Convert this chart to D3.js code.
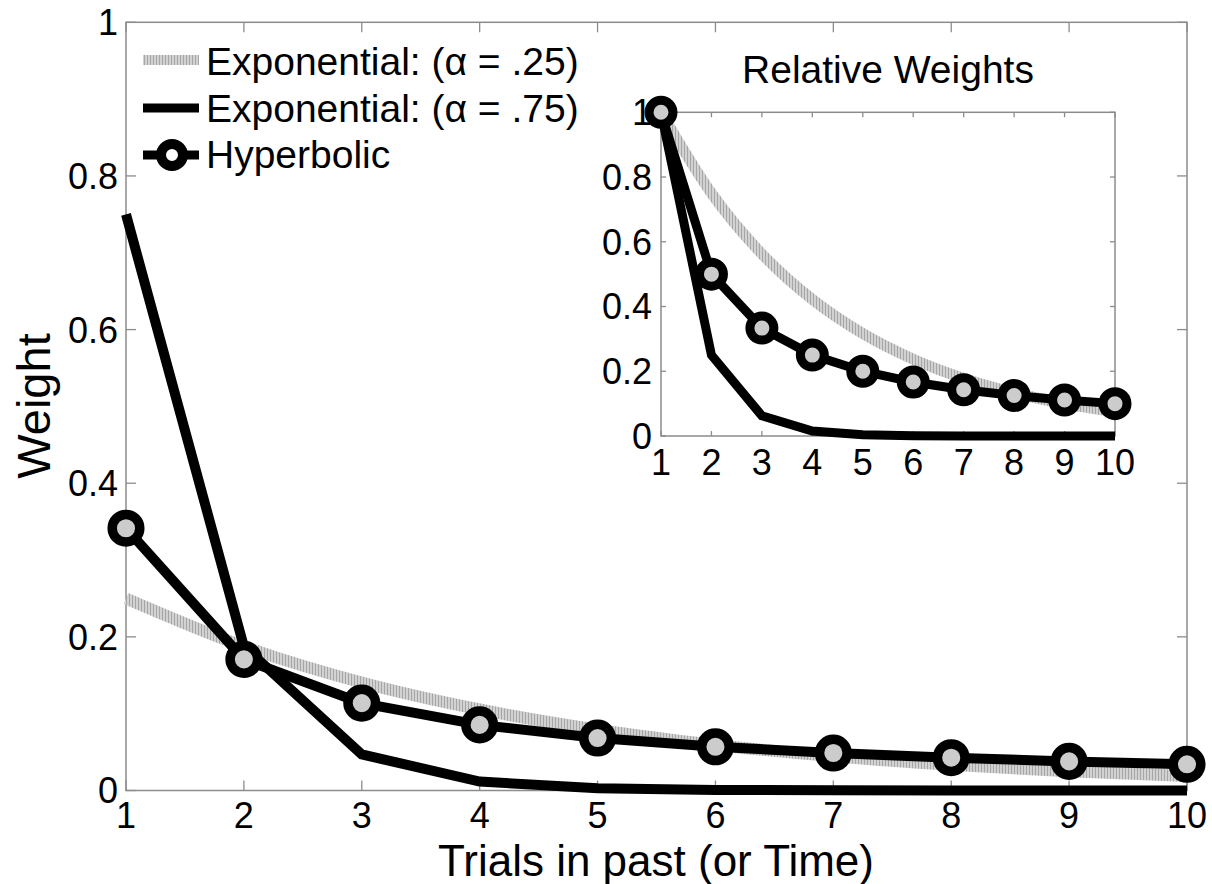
<!DOCTYPE html>
<html><head><meta charset="utf-8">
<script src="https://cdn.jsdelivr.net/npm/d3@7"></script>
<style>
html,body{margin:0;padding:0;background:#fff;}
text{font-family:"Liberation Sans",Arial,sans-serif;fill:#000;}
</style></head>
<body>
<svg id="chart" width="1212" height="884"></svg>
<script>
// ---- data ----
const trials = [1,2,3,4,5,6,7,8,9,10];
const expLow = [0.25,0.1875,0.1406,0.1055,0.0791,0.0593,0.0445,0.0334,0.0250,0.0188];      // alpha = .25
const expHigh = [0.75,0.1875,0.0469,0.0117,0.0029,0.0007,0.0002,0.0000,0.0000,0.0000];     // alpha = .75
const hyper = [0.3414,0.1707,0.1138,0.0854,0.0683,0.0569,0.0488,0.0427,0.0379,0.0341];
const relExpLow = [1,0.75,0.5625,0.4219,0.3164,0.2373,0.1780,0.1335,0.1001,0.0751];
const relExpHigh = [1,0.25,0.0625,0.0156,0.0039,0.0010,0.0002,0.0001,0.0000,0.0000];
const relHyper = [1,0.5,0.3333,0.25,0.2,0.1667,0.1429,0.125,0.1111,0.1];
const mainYTicks = [0,0.2,0.4,0.6,0.8,1];
const insetYTicks = [0,0.2,0.4,0.6,0.8,1];
const legendLabels = ["Exponential: (\u03b1 = .25)","Exponential: (\u03b1 = .75)","Hyperbolic"];
const xLabel = "Trials in past (or Time)";
const yLabel = "Weight";
const insetTitle = "Relative Weights";

const svg = d3.select("#chart");
const axisColor = "#8c8c8c";

// hatch pattern for the grey series
const defs = svg.append("defs");
const pat = defs.append("pattern").attr("id","hatch").attr("patternUnits","userSpaceOnUse")
  .attr("width",3).attr("height",3);
pat.append("rect").attr("width",3).attr("height",3).attr("fill","#d2d2d2");
pat.append("rect").attr("width",1).attr("height",3).attr("fill","#a6a6a6");

function drawAxes(g, x, y, xt, yt, tickLen, fontSize, labelGapX, labelY) {
  const [x0,x1] = x.range(), [y0,y1] = y.range();
  g.append("rect").attr("x",x0).attr("y",y1).attr("width",x1-x0).attr("height",y0-y1)
    .attr("fill","none").attr("stroke",axisColor).attr("stroke-width",1.5);
  xt.forEach(t=>{
    const px = x(t);
    g.append("line").attr("x1",px).attr("x2",px).attr("y1",y0).attr("y2",y0-tickLen).attr("stroke",axisColor).attr("stroke-width",1.3);
    g.append("line").attr("x1",px).attr("x2",px).attr("y1",y1).attr("y2",y1+tickLen).attr("stroke",axisColor).attr("stroke-width",1.3);
    g.append("text").attr("x",px).attr("y",y0+labelY).attr("text-anchor","middle")
      .style("font-size",fontSize+"px").text(t);
  });
  yt.forEach(t=>{
    const py = y(t);
    g.append("line").attr("x1",x0).attr("x2",x0+tickLen).attr("y1",py).attr("y2",py).attr("stroke",axisColor).attr("stroke-width",1.3);
    g.append("line").attr("x1",x1).attr("x2",x1-tickLen).attr("y1",py).attr("y2",py).attr("stroke",axisColor).attr("stroke-width",1.3);
    g.append("text").attr("x",x0-labelGapX).attr("y",py).attr("dy","0.36em").attr("text-anchor","end")
      .style("font-size",fontSize+"px").text(t===0?"0":(t===1?"1":d3.format(".1f")(t)));
  });
}

function drawSeries(g, x, y, lo, hi, hy, w) {
  const lineSmooth = d3.line().x((d,i)=>x(trials[i])).y(d=>y(d)).curve(d3.curveMonotoneX);
  const line = d3.line().x((d,i)=>x(trials[i])).y(d=>y(d));
  g.append("path").attr("d",lineSmooth(lo)).attr("fill","none").attr("stroke","url(#hatch)")
    .attr("stroke-width",w.grey);
  g.append("path").attr("d",line(hi)).attr("fill","none").attr("stroke","#000")
    .attr("stroke-width",w.black).attr("stroke-linejoin","miter");
  g.append("path").attr("d",line(hy)).attr("fill","none").attr("stroke","#000")
    .attr("stroke-width",w.black);
  g.selectAll(null).data(hy).enter().append("circle")
    .attr("cx",(d,i)=>x(trials[i])).attr("cy",d=>y(d)).attr("r",w.r)
    .attr("fill","#cccccc").attr("stroke","#000").attr("stroke-width",w.ms);
}

// ---- main axes ----
const xM = d3.scaleLinear().domain([1,10]).range([126,1187]);
const yM = d3.scaleLinear().domain([0,1]).range([790.5,22.3]);
const gM = svg.append("g");
drawAxes(gM, xM, yM, trials, mainYTicks, 10, 36, 8, 37.5);
drawSeries(gM, xM, yM, expLow, expHigh, hyper, {grey:12, black:10, r:13.8, ms:9.5});

gM.append("text").attr("x",656).attr("y",875.5).attr("text-anchor","middle")
  .style("font-size","44px").text(xLabel);
gM.append("text").attr("transform","translate(50,406) rotate(-90)").attr("text-anchor","middle")
  .style("font-size","47px").text(yLabel);

// ---- legend ----
const lg = svg.append("g");
const legY = [60,108,155];
const legText = [75,122,168];
lg.append("line").attr("x1",143).attr("x2",199).attr("y1",legY[0]).attr("y2",legY[0])
  .attr("stroke","url(#hatch)").attr("stroke-width",10);
lg.append("line").attr("x1",143).attr("x2",199).attr("y1",legY[1]).attr("y2",legY[1])
  .attr("stroke","#000").attr("stroke-width",9);
lg.append("line").attr("x1",143).attr("x2",199).attr("y1",legY[2]).attr("y2",legY[2])
  .attr("stroke","#000").attr("stroke-width",9);
lg.append("circle").attr("cx",172).attr("cy",legY[2]).attr("r",11)
  .attr("fill","#fff").attr("stroke","#000").attr("stroke-width",10);
legendLabels.forEach((t,i)=>{
  lg.append("text").attr("x",206).attr("y",legText[i]).style("font-size","39px").text(t);
});

// ---- inset ----
const xI = d3.scaleLinear().domain([1,10]).range([661,1115]);
const yI = d3.scaleLinear().domain([0,1]).range([436,112.3]);
const gI = svg.append("g");
gI.append("rect").attr("x",661).attr("y",112.3).attr("width",454).attr("height",323.7).attr("fill","#fff");
drawAxes(gI, xI, yI, trials, insetYTicks, 5, 36, 9, 39);
drawSeries(gI, xI, yI, relExpLow, relExpHigh, relHyper, {grey:11, black:9, r:12, ms:9});
gI.append("text").attr("x",888).attr("y",83).attr("text-anchor","middle")
  .style("font-size","39px").text(insetTitle);
</script>
</body></html>
